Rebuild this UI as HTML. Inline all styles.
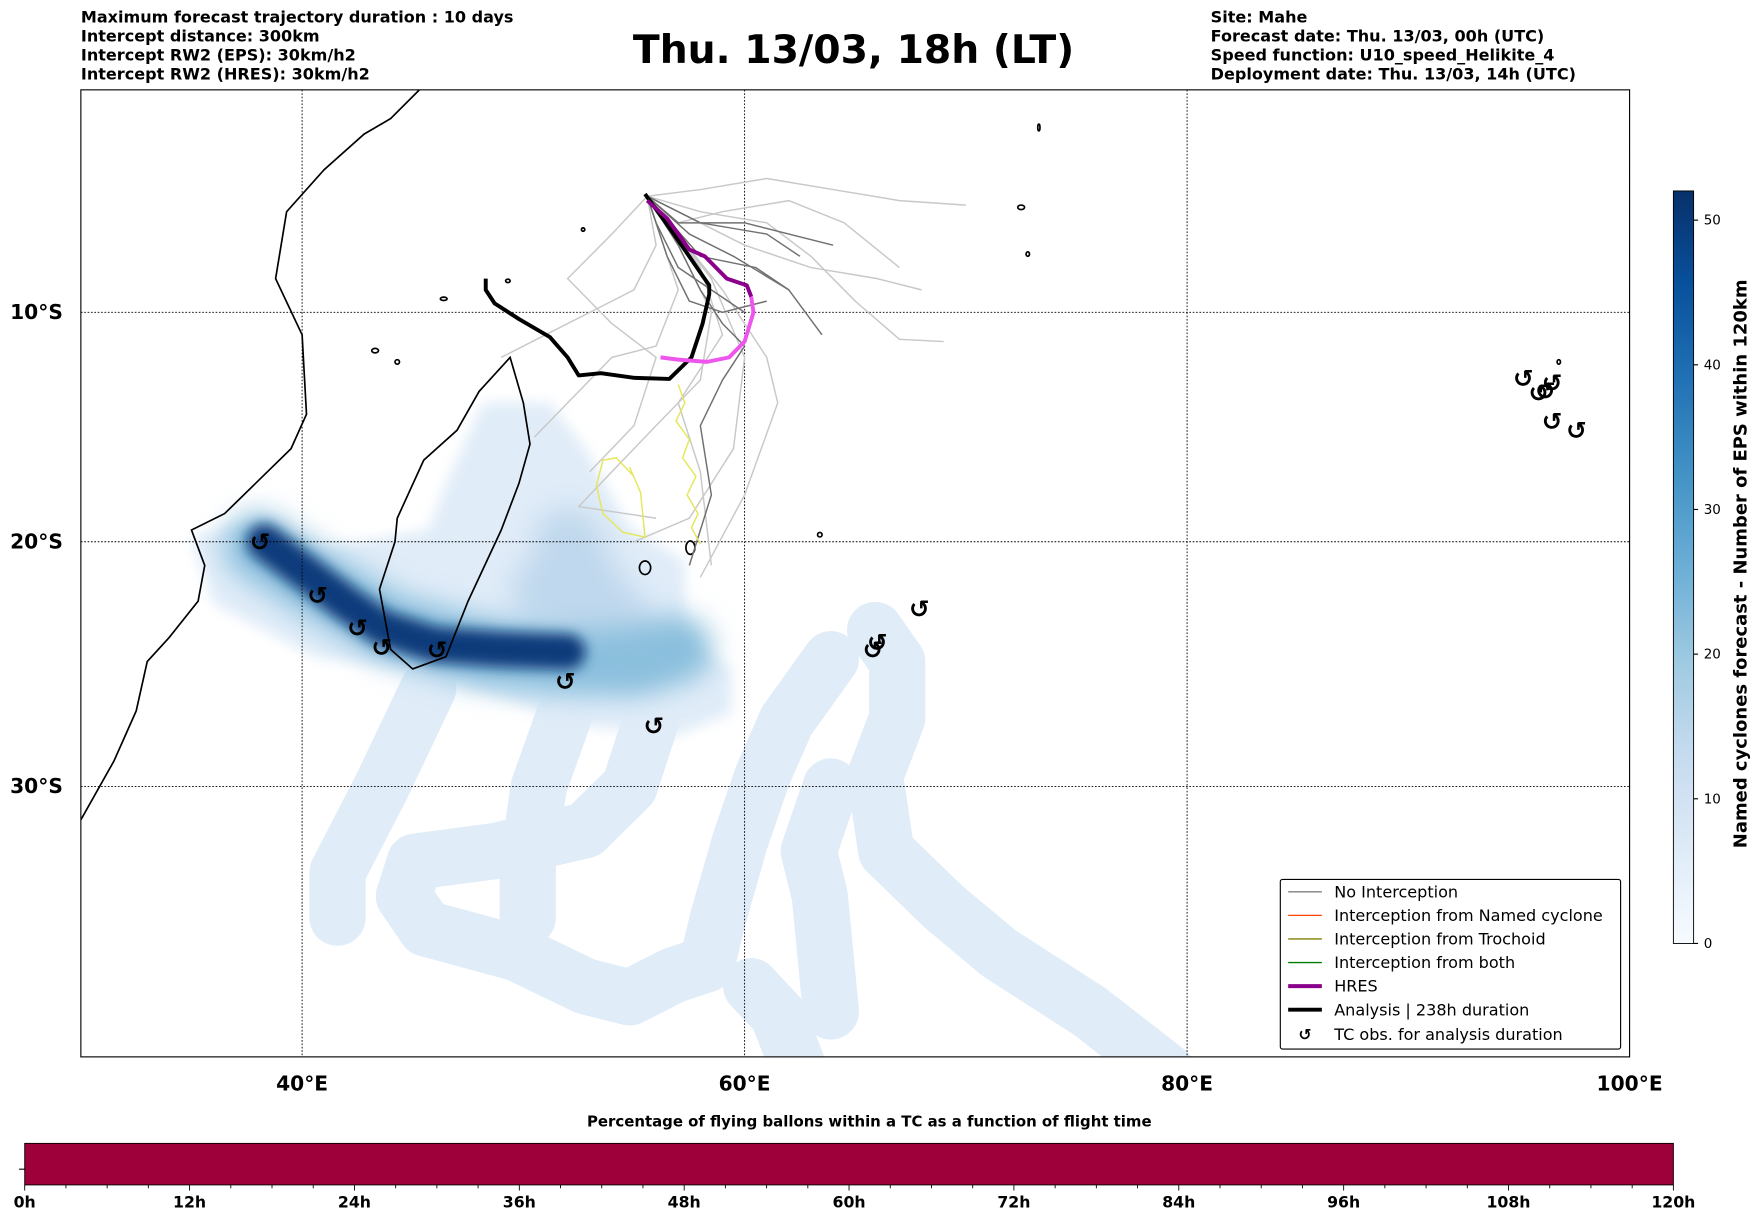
<!DOCTYPE html>
<html><head><meta charset="utf-8"><style>
html,body{margin:0;padding:0;background:#fff;}
svg{display:block;font-family:"DejaVu Sans","Liberation Sans",sans-serif;}
</style></head><body>
<svg id="fig" width="1752" height="1213" viewBox="0 0 1560 1080" preserveAspectRatio="none" xmlns="http://www.w3.org/2000/svg">
<defs>
<clipPath id="mapclip"><rect x="72" y="80" width="1379" height="861"/></clipPath>
<filter id="blur1" filterUnits="userSpaceOnUse" x="0" y="0" width="1560" height="1080"><feGaussianBlur stdDeviation="6"/></filter>
<filter id="blur2" filterUnits="userSpaceOnUse" x="0" y="0" width="1560" height="1080"><feGaussianBlur stdDeviation="12"/></filter>
<linearGradient id="cbgrad" x1="0" y1="1" x2="0" y2="0">
<stop offset="0" stop-color="#f7fbff"/><stop offset="0.125" stop-color="#deebf7"/><stop offset="0.25" stop-color="#c6dbef"/><stop offset="0.375" stop-color="#9ecae1"/><stop offset="0.5" stop-color="#6baed6"/><stop offset="0.625" stop-color="#4292c6"/><stop offset="0.75" stop-color="#2171b5"/><stop offset="0.875" stop-color="#08519c"/><stop offset="1" stop-color="#08306b"/>
</linearGradient>
</defs>
<g font-size="14.3" font-weight="bold">
<text x="72" y="20">Maximum forecast trajectory duration : 10 days</text>
<text x="72" y="37">Intercept distance: 300km</text>
<text x="72" y="54">Intercept RW2 (EPS):  30km/h2</text>
<text x="72" y="71">Intercept RW2 (HRES): 30km/h2</text>
</g>
<text x="760" y="56" font-size="35" font-weight="bold" text-anchor="middle">Thu. 13/03, 18h (LT)</text>
<g font-size="14.3" font-weight="bold">
<text x="1078" y="20">Site: Mahe</text>
<text x="1078" y="37">Forecast date: Thu. 13/03, 00h (UTC)</text>
<text x="1078" y="54">Speed function: U10_speed_Helikite_4</text>
<text x="1078" y="71">Deployment date: Thu. 13/03, 14h (UTC)</text>
</g>
<g id="map" clip-path="url(#mapclip)">
<g id="density"></g>
<g id="coast" fill="none" stroke="#000" stroke-width="1.5"></g>
<g id="grid"></g>
<g id="tracks" fill="none"></g>
<g id="obs"></g>
</g>
<rect x="72" y="80" width="1379" height="861" fill="none" stroke="#000" stroke-width="1"/>
<g id="axlabels" font-size="18" font-weight="bold"></g>
<g>
<rect x="1140" y="783" width="303" height="151" fill="#fff" stroke="#000" stroke-width="1" rx="2"/>
<g font-size="14.3">
<line x1="1147" y1="794" x2="1177" y2="794" stroke="#808080" stroke-width="1.2"/><text x="1188" y="799">No Interception</text>
<line x1="1147" y1="815" x2="1177" y2="815" stroke="#ff4500" stroke-width="1.2"/><text x="1188" y="820">Interception from Named cyclone</text>
<line x1="1147" y1="836" x2="1177" y2="836" stroke="#808000" stroke-width="1.2"/><text x="1188" y="841">Interception from Trochoid</text>
<line x1="1147" y1="857" x2="1177" y2="857" stroke="#008000" stroke-width="1.2"/><text x="1188" y="862">Interception from both</text>
<line x1="1147" y1="878" x2="1177" y2="878" stroke="#8b008b" stroke-width="3.5"/><text x="1188" y="883">HRES</text>
<line x1="1147" y1="899" x2="1177" y2="899" stroke="#000" stroke-width="3.5"/><text x="1188" y="904">Analysis | 238h duration</text>
<text x="1162" y="926" font-weight="bold" font-size="14" text-anchor="middle">↺</text><text x="1188" y="926">TC obs. for analysis duration</text>
</g>
</g>
<g>
<rect x="1490" y="170" width="18" height="670" fill="url(#cbgrad)" stroke="#000" stroke-width="0.8"/>
<g id="cbticks" font-size="12"></g>
<text x="1555" y="502" font-size="16" font-weight="bold" text-anchor="middle" transform="rotate(-90 1555 502)">Named cyclones forecast - Number of EPS within 120km</text>
</g>
<g>
<text x="774" y="1003" font-size="13.3" font-weight="bold" text-anchor="middle">Percentage of flying ballons within a TC as a function of flight time</text>
<rect x="22" y="1018" width="1468" height="37" fill="#9e003a" stroke="#000" stroke-width="0.8"/>
<line x1="17" y1="1041" x2="22" y2="1041" stroke="#000"/>
<g id="hticks" font-size="14" font-weight="bold"></g>
</g>
<script>
// ---- data ----
const lonTicks=[40,60,80,100];
const latTicks=[10,20,30];
const cbTickValues=[0,10,20,30,40,50];
const hourTicks=[0,12,24,36,48,60,72,84,96,108,120];
const analysisLon=[55.5,56.8,58.4,58.4,58.1,57.6,56.6,55.0,53.5,52.5,52.0,51.2,49.8,48.7,48.3,48.3];
const analysisLat=[4.7,6.5,8.8,9.2,10.5,12.0,12.95,12.9,12.7,12.8,12.0,11.1,10.3,9.6,9.0,8.5];
const hresLon=[55.6,56.5,57.5,58.2,59.2,60.1,60.3];
const hresLat=[5.0,5.8,7.2,7.5,8.5,8.8,9.3];
const hresTailLon=[60.3,60.4,60.0,59.3,58.3,57.0,56.2];
const hresTailLat=[9.3,10.0,11.3,12.0,12.2,12.1,12.0];
const trochLon=[57.0,57.3,56.9,57.5,57.2,57.8,57.4,57.9,57.6,58.0];
const trochLat=[13.2,14.0,14.8,15.6,16.4,17.2,18.0,18.8,19.4,20.1];
const trochLoopLon=[55.0,54.2,53.6,53.3,53.6,54.5,55.5,55.3,54.8];
const trochLoopLat=[17.2,16.4,16.5,17.6,18.8,19.6,19.8,17.9,16.8];
const lightTracks=[
 [[55.6,58,61,64,67,70],[4.8,4.5,4,4.5,5,5.2]],
 [[55.6,58,61,63,65,67,69],[4.8,5.5,6,7.5,9.5,11.2,11.3]],
 [[55.6,57,58.5,58,56,54,52.5,56],[4.8,7,10,13,15,17,18.5,19]],
 [[55.6,54,52,54,56,55,53],[4.8,6.5,8.5,10.5,12,15,17]],
 [[55.6,58,59,57,58,58.5],[4.8,8,11,14,17,21]],
 [[55.6,60,63,66,68],[4.8,7,8,8.5,9]],
 [[55.6,59,61,61.5,60,58],[4.8,9,12,14,18,21.5]],
 [[55.6,57,56,54,52,50.5],[4.8,9,11.5,12,14,15.5]],
 [[55.6,58.5,60,59.5,57.5,55],[4.8,8.5,12,16,19,20]],
 [[55.6,57,59,62,64.5,67],[4.8,6,5.5,5,6,8]],
 [[55.6,56,55,53,51,49],[4.8,7,9,10,11,12]]
];
const darkTracks=[
 [[55.6,57.5,59.5,62,63.5],[4.8,6.5,7.5,9,11]],
 [[55.6,57,58,59,60,59,58,58.5,57.5],[4.8,7,9,10.5,11.5,13,15,18,21]],
 [[55.6,58,61,62.5],[4.8,6,6.5,7.5]],
 [[55.6,56.5,57.5,59,61],[4.8,7.5,9.5,10,9.5]],
 [[55.6,58,60.5,62],[4.8,7.5,8,9]],
 [[55.6,57,60,62,64],[4.8,6,6,6.5,7]],
 [[55.6,56,57,58.5,60],[4.8,6,8,9,10]]
];
const obsLon=[38.1,40.7,42.5,43.6,46.1,51.9,55.9,65.8,66.0,67.9,95.2,95.9,96.2,96.5,96.5,97.6];
const obsLat=[20.0,22.25,23.6,24.4,24.5,25.8,27.6,24.5,24.2,22.8,12.9,13.55,13.45,13.1,14.8,15.2];
const lightArea=[[48.2,51.2,52.8,54.8,57.3,57.3,59.4,59.4,56.8,52.8,48.2,44.6,40.6,36,35,37,39.6,42.6,45.7,46.7],[14,14,16,19.4,20.8,24,25.3,27.1,28,27.6,26.2,25.3,24.8,22.6,19.8,19.3,20.4,20,19.5,17.1]];
const lightBands=[
 [[55.8,54.8,52.8,48.7,45.1,44.6,45.6,49.7,52.8,54.8,56.8,58.3,58.8,59.8,60.8,61.9,63.9],[27.3,30,31.7,32.5,32.9,34.2,35.4,36.3,37.5,37.9,37.1,36.7,35,32.1,29.6,27.4,24.9]],
 [[51.8,50.7,50.2,50.2],[27.3,30,32.9,35]],
 [[65.9,66.9,66.9,65.9,66.4,69,71.5,75.6,79.1],[23.7,25,27.3,29.6,32.5,34.6,36.3,38.4,40.5]],
 [[63.9,62.9,63.4,63.9],[30,32.5,34.2,38.4]],
 [[45.7,43.6,41.6,41.6],[26.1,30,33.3,35]],
 [[60.3,61.5,62.5],[37.5,38.5,40.5]]
];
const coreBandLon=[38.3,40,42,43.6,46,49,52];
const coreBandLat=[20,21.2,22.6,23.6,24.3,24.5,24.6];
const midBandLon=[38,41,44,48,52,55,57];
const midBandLat=[20.2,22,23.6,24.6,25,25,24.5];
const mid2Lon=[52,53,55,54,51];
const mid2Lat=[20,22,24.5,23,22];
const africaLon=[30,31.5,32.5,33,34,35.3,35.6,35,36.5,39.5,40.2,40,38.8,39.3,41,42.8,44,45.3];
const africaLat=[31.3,29,27,25,24,22.5,21,19.5,18.8,16,14.5,11,8.5,5.5,3.6,2.0,1.3,0];
const madaLon=[49.4,50.0,50.3,49.8,49.0,47.5,46.5,45.0,44.0,43.5,44.2,44.3,45.5,47.0,48.0,49.4];
const madaLat=[12.0,14.0,15.8,17.5,19.5,22.5,24.8,25.3,24.5,22.0,20.0,19.0,16.5,15.2,13.5,12.0];
// ---- projection ----
const X=lon=>72+(lon-30)*19.7;
const Y=lat=>80+1129*Math.log(Math.tan(Math.PI/4+lat*Math.PI/360));
const CB=v=>840-v*12.88;
const NS='http://www.w3.org/2000/svg';
function mk(tag,parent,attrs){const e=document.createElementNS(NS,tag);for(const k in attrs)e.setAttribute(k,attrs[k]);parent.appendChild(e);return e;}
function pts(lons,lats){return lons.map((l,i)=>X(l).toFixed(1)+','+Y(lats[i]).toFixed(1)).join(' ');}
const stops=['#f7fbff','#deebf7','#c6dbef','#9ecae1','#6baed6','#4292c6','#2171b5','#08519c','#08306b'];
function blues(v){let t=Math.max(0,Math.min(1,v/52))*8;const i=Math.min(7,Math.floor(t)),f=t-i;
 const a=stops[i],b=stops[i+1];const h=(s,o)=>parseInt(s.substr(o,2),16);
 const c=[1,3,5].map(o=>Math.round(h(a,o)+(h(b,o)-h(a,o))*f));return 'rgb('+c.join(',')+')';}
// density
const den=document.getElementById('density');
let p=mk('polygon',den,{points:pts(lightArea[0],lightArea[1]),fill:blues(6),filter:'url(#blur1)'});

lightBands.forEach(b=>{const e=mk('polyline',den,{points:pts(b[0],b[1]),fill:'none',stroke:blues(6),'stroke-width':50,'stroke-linejoin':'round','stroke-linecap':'round'});
 });
let m2=mk('polyline',den,{points:pts(mid2Lon,mid2Lat),fill:'none',stroke:blues(14),'stroke-width':60,'stroke-linejoin':'round','stroke-linecap':'round',filter:'url(#blur2)'});

let mb=mk('polyline',den,{points:pts(midBandLon,midBandLat),fill:'none',stroke:blues(22),'stroke-width':60,'stroke-linejoin':'round','stroke-linecap':'round',filter:'url(#blur2)'});

let cb=mk('polyline',den,{points:pts(coreBandLon,coreBandLat),fill:'none',stroke:blues(50),'stroke-width':32,'stroke-linejoin':'round','stroke-linecap':'round',filter:'url(#blur1)'});

// coast
const coast=document.getElementById('coast');
let af=mk('polyline',coast,{points:pts(africaLon,africaLat)});

let md=mk('polygon',coast,{points:pts(madaLon,madaLat)});

[[57.55,20.25,4,6],[55.5,21.1,5,6],[63.4,19.7,2,2],[43.3,11.7,3,2],[44.3,12.2,2,2],[49.3,8.6,2,1.5],[46.4,9.4,3,1.5],[52.7,6.3,1.5,1.5],[72.5,5.3,3,2],[72.8,7.4,1.5,2],[73.3,1.7,1,3],[96.8,12.2,1.5,2]].forEach(a=>{
 const e=mk('ellipse',coast,{cx:X(a[0]),cy:Y(a[1]),rx:a[2],ry:a[3]});
 });
// grid
const grid=document.getElementById('grid'),axl=document.getElementById('axlabels');
lonTicks.forEach(l=>{const e=mk('line',grid,{x1:X(l),x2:X(l),y1:80,y2:941,stroke:'#000','stroke-width':0.8,'stroke-dasharray':'1.5,1.5'});
 
 const t=mk('text',axl,{x:X(l),y:971,'text-anchor':'middle'});t.textContent=l+'°E';
 });
latTicks.forEach(l=>{const e=mk('line',grid,{y1:Y(l),y2:Y(l),x1:72,x2:1451,stroke:'#000','stroke-width':0.8,'stroke-dasharray':'1.5,1.5'});
 
 const t=mk('text',axl,{x:56,y:Y(l)+6,'text-anchor':'end'});t.textContent=l+'°S';
 });
// tracks
const tr=document.getElementById('tracks');
lightTracks.forEach(t=>{const e=mk('polyline',tr,{points:pts(t[0],t[1]),stroke:'#c8c8c8','stroke-width':1.3,'stroke-linejoin':'round'});
 });
darkTracks.forEach(t=>{const e=mk('polyline',tr,{points:pts(t[0],t[1]),stroke:'#707070','stroke-width':1.3,'stroke-linejoin':'round'});
 });
let y1=mk('polyline',tr,{points:pts(trochLon,trochLat),stroke:'#e6e65a','stroke-width':1.3});

let y2=mk('polyline',tr,{points:pts(trochLoopLon,trochLoopLat),stroke:'#e6e65a','stroke-width':1.3});

let an=mk('polyline',tr,{points:pts(analysisLon,analysisLat),stroke:'#000','stroke-width':3.5,'stroke-linejoin':'round'});

let h2=mk('polyline',tr,{points:pts(hresTailLon,hresTailLat),stroke:'#ee55ee','stroke-width':3.5,'stroke-linejoin':'round'});

let h1=mk('polyline',tr,{points:pts(hresLon,hresLat),stroke:'#8b008b','stroke-width':3.5,'stroke-linejoin':'round'});

// obs
const obs=document.getElementById('obs');
obsLon.forEach((l,i)=>{const t=mk('text',obs,{x:X(l),y:Y(obsLat[i])+8,'text-anchor':'middle','font-size':22,'font-weight':'bold'});t.textContent='↺';
 });
// colorbar ticks
const cbt=document.getElementById('cbticks');
cbTickValues.forEach(v=>{const e=mk('line',cbt,{x1:1508,x2:1512,y1:CB(v),y2:CB(v),stroke:'#000'});
 
 const t=mk('text',cbt,{x:1517,y:CB(v)+4});t.textContent=v;
 });
const ht=document.getElementById('hticks');
const HX=h=>22+h*1468/120;
for(let h=0;h<=120;h+=3){const big=h%12===0;const e=mk('line',ht,{x1:HX(h),x2:HX(h),y1:1055,y2:big?1060:1058,stroke:'#000','stroke-width':0.8});
 }
hourTicks.forEach(h=>{const t=mk('text',ht,{x:HX(h),y:1075,'text-anchor':'middle'});t.textContent=h+'h';
 });
</script>
</svg>
</body></html>
